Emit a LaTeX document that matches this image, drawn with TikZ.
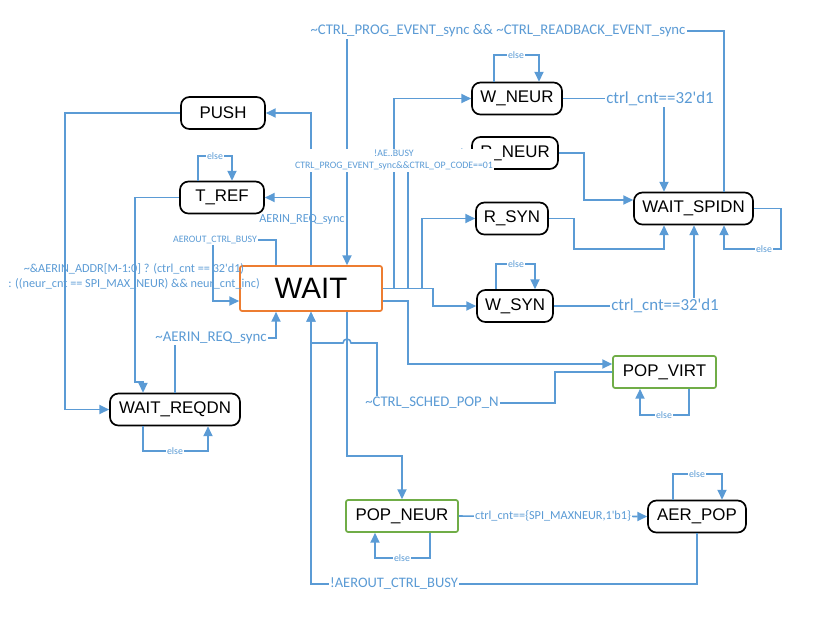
\documentclass[tikz,border=0pt]{standalone}
\usepackage{fontspec}
\setmainfont{Liberation Sans}
\newfontfamily\lblfont{Carlito}
\usetikzlibrary{arrows.meta}
\usetikzlibrary{positioning}
\definecolor{lineblue}{RGB}{91,155,213}
\definecolor{selorange}{RGB}{237,125,49}
\definecolor{selgreen}{RGB}{112,173,71}

\begin{document}
\begin{tikzpicture}[x=0.025cm,y=-0.025cm,
  stbox/.style={draw=black,line width=1.2pt,rounded corners=6pt,fill=white,minimum height=0.8cm,inner sep=0pt,font=\fontsize{12}{14}\selectfont},
  waitbox/.style={stbox,draw=selorange,rounded corners=1.5pt,minimum width=3.55cm,minimum height=1.125cm,font=\fontsize{21}{24}\selectfont},
  popbox/.style={stbox,draw=selgreen,rounded corners=1.5pt},
  flow/.style={draw=lineblue,line width=1.1pt,-{Triangle[length=7pt,width=6.5pt]}},
  cond/.style={text=lineblue,inner sep=1pt,font=\lblfont\fontsize{#1}{#1}\selectfont},
  elsecond/.style={cond=7,fill=white,inner sep=0.5pt}]
\useasboundingbox (0,0) rectangle (822,621);

\node[stbox,minimum width=2.1cm] (push) at (223,113) {PUSH};
\node[stbox,minimum width=2.1cm] (tref) at (222,197.5) {T\_REF};
\node[waitbox] (wait) at (311,288.5) {WAIT};
\node[stbox,minimum width=3.25cm] (reqdn) at (175,409.5) {WAIT\_REQDN};
\node[stbox,minimum width=2.25cm] (wneur) at (517,98.5) {W\_NEUR};
\node[stbox,minimum width=2.15cm] (rneur) at (515,153) {R\_NEUR};
\node[stbox,minimum width=1.8cm] (rsyn) at (512,218.5) {R\_SYN};
\node[stbox,minimum width=1.9cm] (wsyn) at (515,306) {W\_SYN};
\node[stbox,minimum width=2.975cm] (spidn) at (693.5,208.5) {WAIT\_SPIDN};
\node[popbox,minimum width=2.575cm] (popvirt) at (664.5,372) {POP\_VIRT};
\node[popbox,minimum width=2.8cm] (popneur) at (402,516) {POP\_NEUR};
\node[stbox,minimum width=2.45cm] (aerpop) at (697,516.5) {AER\_POP};

\draw[flow] (wait.north) |- (push.east);
\draw[flow] (wait.north) |- (tref.east);
\draw[flow] (wait.north -| 276,0) |- (213,240) -- (213,301) -- (wait.west |- 0,301);
\draw[flow] (reqdn.north -| 175,0) |- (276,338) -- (wait.south -| 276,0);
\draw[flow] (push.west) -| (65,409.5) -- (reqdn.west);
\draw[flow] (tref.west) -| (135,382) -| (reqdn.north -| 143,0);
\draw[flow] (spidn.north -| 724,0) |- (347,31) -- (wait.north -| 347,0);

\draw[flow] (wait.east) -- (394,288.5) |- (wneur.west);
\draw[flow] (wait.east) -- (408,288.5) |- (rneur.west);
\draw[flow] (wait.east) -- (422,288.5) |- (rsyn.west);
\draw[flow] (wait.east) -- (433,288.5) |- (wsyn.west);
\draw[flow] (wait.east |- 0,301) -- (408,301) |- (popvirt.west |- 0,364);
\draw[flow] (popvirt.west) -| (555,403) -- (377,403) -- (377,343) -- (351,343) arc[start angle=0,end angle=-180,radius=4] -- (wait.south |- 0,343) -- (wait.south);
\draw[flow] (wait.south -| 347,0) -- (347,456) -| (popneur.north);
\draw[flow] (popneur.east) -- (aerpop.west);
\draw[flow] (aerpop.south) |- (wait.south |- 0,584) -- (wait.south);

\draw[flow] (wneur.east) -| (spidn.north -| 664,0);
\draw[flow] (rneur.east) -| (584,200) -- (spidn.west |- 0,200);
\draw[flow] (rsyn.east) -| (574,249) -| (spidn.south -| 664,0);
\draw[flow] (wsyn.east) -| (spidn.south -| 694,0);

\draw[flow] (wneur.north -| 494,0) |- (539,55) -- (wneur.north -| 539,0);
\draw[flow] (tref.north -| 198,0) |- (232,156) -- (tref.north -| 232,0);
\draw[flow] (wsyn.north -| 496,0) |- (535,264) -- (wsyn.north -| 535,0);
\draw[flow] (spidn.east) -| (781,249) -| (spidn.south -| 724,0);
\draw[flow] (popvirt.south -| 689,0) |- (640,415) -- (popvirt.south -| 640,0);
\draw[flow] (popneur.south -| 430,0) |- (375,558) -- (popneur.south -| 375,0);
\draw[flow] (aerpop.north -| 673,0) |- (722,474) -- (aerpop.north -| 722,0);
\draw[flow] (reqdn.south -| 143,0) |- (208,451) -- (reqdn.south -| 208,0);

\node[cond=10.5,fill=white] (cprog) at (498,31) {\textasciitilde CTRL\_PROG\_EVENT\_sync \&\& \textasciitilde CTRL\_READBACK\_EVENT\_sync};
\node[cond=7,fill=white,align=center] (cprogop) at (394,160) {!AE..BUSY\\[1.5pt]CTRL\_PROG\_EVENT\_sync\&\&CTRL\_OP\_CODE==01};
\node[cond=8.7] (creq) at (302,220) {AERIN\_REQ\_sync};
\node[cond=7,fill=white] (cbusy) at (215,240) {AEROUT\_CTRL\_BUSY};
\node[cond=8.7,align=center] (caddr) at (134,276.5) {\textasciitilde\&AERIN\_ADDR[M-1:0] ? (ctrl\_cnt == 32\textquotesingle d1)\\[1.9pt]: ((neur\_cnt == SPI\_MAX\_NEUR) \&\& neur\_cnt\_inc)};
\node[cond=10.6,fill=white] (cnreq) at (211,338) {\textasciitilde AERIN\_REQ\_sync};
\node[cond=12,fill=white] (cwcnt) at (660,98.5) {ctrl\_cnt==32\textquotesingle d1};
\node[cond=12,fill=white] (cscnt) at (665,306) {ctrl\_cnt==32\textquotesingle d1};
\node[cond=10.5,fill=white] (csched) at (432,403) {\textasciitilde CTRL\_SCHED\_POP\_N};
\node[cond=10.3,fill=white] (caer) at (394,584) {!AEROUT\_CTRL\_BUSY};
\node[cond=8.7,fill=white] (cmax) at (553,516) {ctrl\_cnt==\{SPI\_MAXNEUR,1\textquotesingle b1\}};

\node[elsecond] (ewneur) at (516,55) {else};
\node[elsecond] (etref) at (215,156) {else};
\node[elsecond] (ewsyn) at (516,264) {else};
\node[elsecond] (espidn) at (764,249) {else};
\node[elsecond] (epopvirt) at (664,415) {else};
\node[elsecond] (epopneur) at (402,558) {else};
\node[elsecond] (eaerpop) at (697,474) {else};
\node[elsecond] (ereqdn) at (175,451) {else};

\end{tikzpicture}
\end{document}
